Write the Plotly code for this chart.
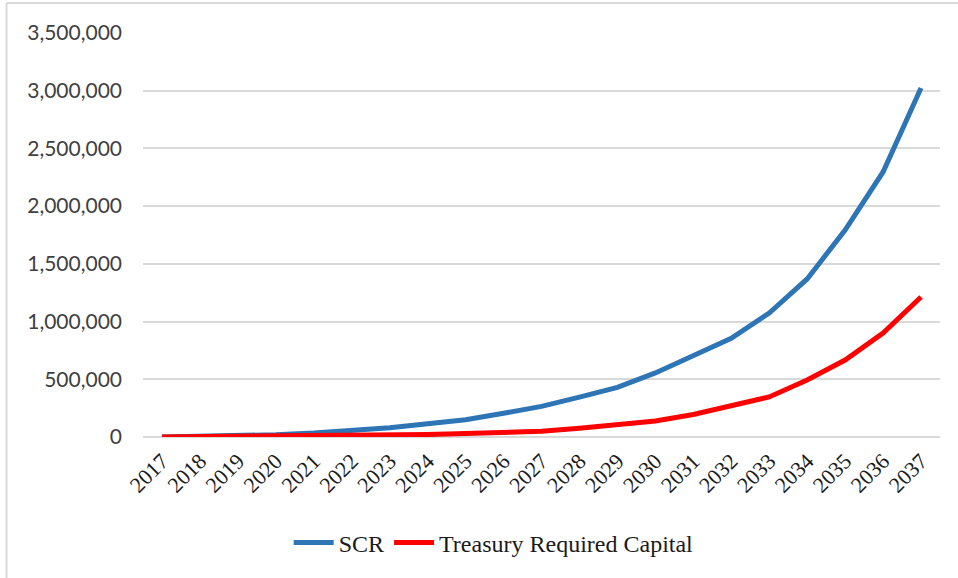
import plotly.graph_objects as go

years = [str(y) for y in range(2017, 2038)]
scr = [0, 5000, 10000, 20000, 35000, 55000, 80000, 115000, 150000, 205000,
       265000, 345000, 430000, 555000, 700000, 855000, 1074000, 1369000,
       1793000, 2296000, 3023000]
treasury = [0, 2000, 4000, 6000, 9000, 12000, 15000, 22000, 30000, 40000,
            50000, 75000, 105000, 139000, 195000, 268000, 347000, 494000,
            667000, 901000, 1213000]
y_ticks = [0, 500000, 1000000, 1500000, 2000000, 2500000, 3000000, 3500000]
y_tick_text = ["0", "500,000", "1,000,000", "1,500,000", "2,000,000",
               "2,500,000", "3,000,000", "3,500,000"]

fig = go.Figure()
fig.add_trace(go.Scatter(x=years, y=scr, mode="lines", name="SCR",
                         line=dict(color="#2E75B6", width=5)))
fig.add_trace(go.Scatter(x=years, y=treasury, mode="lines",
                         name="Treasury Required Capital",
                         line=dict(color="#FF0000", width=5)))

fig.update_layout(
    width=958, height=578,
    margin=dict(l=143, r=18, t=33, b=141),
    paper_bgcolor="white", plot_bgcolor="white",
    showlegend=True,
    legend=dict(orientation="h", x=0.44, y=-0.262, xanchor="center",
                yanchor="middle",
                font=dict(family="Liberation Serif, Times New Roman, serif",
                          size=24, color="#1a1a1a"),
                itemwidth=40, tracegroupgap=0),
    xaxis=dict(type="category", range=[-0.5, 20.5], showgrid=False,
               showline=False, zeroline=False, ticks="",
               tickangle=-45, ticklabelstandoff=6,
               tickfont=dict(family="Liberation Serif, Times New Roman, serif",
                             size=22, color="#1a1a1a")),
    yaxis=dict(range=[0, 3500000], tickvals=y_ticks, ticktext=y_tick_text,
               showgrid=True, gridcolor="#D9D9D9", gridwidth=1.5,
               zeroline=True, zerolinecolor="#D9D9D9", zerolinewidth=1.5,
               showline=False, ticks="", ticklabelstandoff=20,
               tickfont=dict(family="Lato, Open Sans, sans-serif", size=21,
                             color="#404040")),
    shapes=[
        dict(type="line", xref="paper", yref="paper",
             x0=(6.5 - 143) / 797, x1=(958 - 143) / 797,
             y0=(437 - 3) / 404, y1=(437 - 3) / 404,
             line=dict(color="#D9D9D9", width=2)),
        dict(type="line", xref="paper", yref="paper",
             x0=(6.5 - 143) / 797, x1=(6.5 - 143) / 797,
             y0=(437 - 3) / 404, y1=(437 - 578) / 404,
             line=dict(color="#D9D9D9", width=2)),
    ],
)

fig.write_html("out.html")
